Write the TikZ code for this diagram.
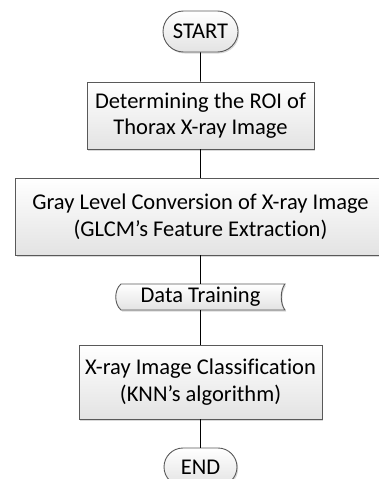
\documentclass[tikz,border=0pt]{standalone}
\usepackage{fontspec}
\setmainfont{Carlito}[Ligatures=NoCommon]
\usetikzlibrary{shadows,shapes.misc}
\begin{document}
\begin{tikzpicture}[x=1pt,y=-1pt,
  shade/.style={top color=white,bottom color=black!11,draw=black!65,line width=0.9pt,
    drop shadow={shadow xshift=1.2pt,shadow yshift=-1.5pt,opacity=0.3}},
  txt/.style={font=\fontsize{22.5}{26.5}\selectfont,align=center,inner sep=0pt},
  procbox/.style={shade,txt,rectangle},
  termbox/.style={shade,txt,rounded rectangle},
  conn/.style={draw=black,line width=0.9pt}]
\useasboundingbox (0,0) rectangle (379,479);
\node[termbox,minimum width=75pt,minimum height=41pt] (start) at (200.5,31.5) {START};
\node[procbox,minimum width=227pt,minimum height=67pt] (b1) at (200.5,115.5) {Determining the ROI of\\Thorax X-ray Image};
\node[procbox,minimum width=370pt,minimum height=77pt] (b2) at (200.5,216.5) {Gray Level Conversion of X-ray Image\\(GLCM’s Feature Extraction)};
\path[shade] (121,284) -- (285,284) .. controls (280,290) and (280,304) .. (285,310)
  -- (121,310) .. controls (114,304) and (114,290) .. (121,284) -- cycle;
\node[txt,minimum width=170pt,minimum height=26pt] (dt) at (200.5,297) {Data Training};
\node[procbox,minimum width=243pt,minimum height=74pt] (b3) at (200.5,382) {X-ray Image Classification\\(KNN’s algorithm)};
\node[termbox,minimum width=73pt,minimum height=38pt] (end) at (200.5,467) {END};
\draw[conn] (start) -- (b1);
\draw[conn] (b1) -- (b2);
\draw[conn] (b2) -- (dt);
\draw[conn] (dt) -- (b3);
\draw[conn] (b3) -- (end);
\end{tikzpicture}
\end{document}
